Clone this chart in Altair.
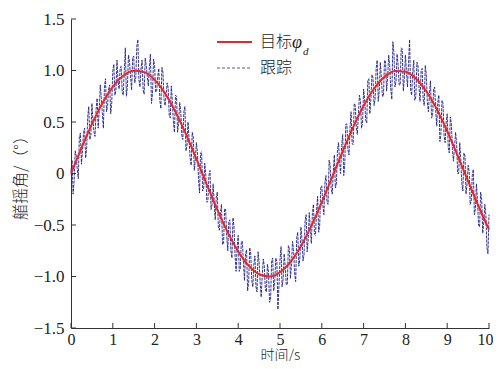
import altair as alt
import pandas as pd

# target (step 0.25 s)
target_t = [i * 0.25 for i in range(41)]
target_v = [0.00, 0.247, 0.479, 0.682, 0.841, 0.949, 0.997, 0.984, 0.909, 0.778,
            0.598, 0.382, 0.141, -0.108, -0.351, -0.572, -0.757, -0.895, -0.978, -0.999,
            -0.959, -0.859, -0.706, -0.509, -0.279, -0.033, 0.215, 0.450, 0.657, 0.823,
            0.938, 0.995, 0.989, 0.923, 0.798, 0.625, 0.412, 0.174, -0.075, -0.318, -0.544]

# tracking samples on the 0.05 s grid
track_a = [0.02, -0.20, 0.22, 0.04, 0.36, 0.09, 0.40, 0.15, 0.55, 0.33,
           0.68, 0.40, 0.62, 0.44, 0.86, 0.58, 0.84, 0.60, 0.82, 0.58,
           1.00, 0.76, 1.10, 0.82, 1.04, 0.76, 1.22, 0.85, 1.08, 0.81,
           1.14, 0.93, 1.30, 0.84, 1.10, 0.77, 1.05, 0.85, 1.16, 0.78,
           1.05, 0.80, 1.02, 0.63, 0.98, 0.66, 0.88, 0.56, 0.85, 0.50,
           0.76, 0.40, 0.69, 0.37, 0.60, 0.22, 0.50, 0.15, 0.40, 0.03,
           0.30, -0.05, 0.20, -0.17, 0.10, -0.28, -0.02, -0.35, -0.10, -0.45,
           -0.18, -0.55, -0.30, -0.68, -0.35, -0.75, -0.45, -0.82, -0.52, -0.95,
           -0.60, -0.92, -0.66, -1.04, -0.74, -1.06, -0.78, -1.10, -0.80, -1.15,
           -0.86, -1.20, -0.83, -1.13, -0.88, -1.25, -0.85, -1.14, -0.82, -1.32,
           -0.84, -1.10, -0.78, -1.08, -0.70, -1.02, -0.66, -0.98, -0.62, -0.90,
           -0.52, -0.85, -0.46, -0.76, -0.38, -0.68, -0.30, -0.60, -0.22, -0.50,
           -0.12, -0.40, -0.02, -0.30, 0.08, -0.20, 0.18, -0.10, 0.30, 0.00,
           0.38, 0.10, 0.48, 0.18, 0.60, 0.28, 0.66, 0.38, 0.76, 0.44,
           0.82, 0.52, 0.90, 0.58, 0.96, 0.66, 1.02, 0.70, 1.08, 0.75,
           1.10, 0.80, 1.15, 0.82, 1.28, 0.84, 1.16, 0.86, 1.22, 0.80,
           1.15, 0.84, 1.30, 0.76, 1.10, 0.75, 1.05, 0.70, 1.02, 0.66,
           0.96, 0.60, 0.90, 0.55, 0.84, 0.46, 0.76, 0.38, 0.68, 0.30,
           0.58, 0.20, 0.48, 0.12, 0.40, 0.00, 0.30, -0.10, 0.20, -0.20,
           0.08, -0.30, -0.02, -0.40, -0.10, -0.50, -0.18, -0.58, -0.30, -0.72,
           -0.40]

# tracking samples half-way between (t = 0.025, 0.075, ...)
track_b = [0.13, -0.08, 0.17, -0.05, 0.39, 0.22, 0.44, 0.25, 0.65, 0.37,
           0.52, 0.36, 0.73, 0.60, 0.74, 0.44, 0.92, 0.66, 0.86, 0.69,
           1.06, 0.81, 0.90, 1.02, 0.79, 1.00, 0.75, 1.15, 0.94, 1.12,
           0.88, 1.24, 0.91, 1.02, 0.81, 1.12, 0.94, 1.03, 0.68, 1.11,
           0.79, 0.94, 0.71, 1.03, 0.72, 0.76, 0.83, 0.54, 0.70, 0.40,
           0.75, 0.49, 0.61, 0.33, 0.65, 0.27, 0.33, 0.08, 0.36, 0.14,
           0.20, -0.19, 0.21, -0.14, -0.02, -0.27, 0.03, -0.30, -0.28, -0.23,
           -0.52, -0.38, -0.69, -0.34, -0.60, -0.47, -0.75, -0.43, -0.80, -0.72,
           -0.95, -0.66, -0.86, -0.78, -1.14, -0.72, -1.04, -0.88, -1.10, -0.76,
           -1.05, -0.99, -0.90, -1.15, -0.96, -1.22, -0.82, -1.04, -0.86, -1.09,
           -0.71, -1.03, -0.90, -1.08, -0.73, -0.88, -0.74, -1.05, -0.57, -0.83,
           -0.63, -0.79, -0.40, -0.64, -0.53, -0.39, -0.59, -0.36, -0.57, -0.13,
           -0.31, -0.09, -0.28, 0.13, -0.15, 0.01, -0.14, 0.23, 0.11, 0.27,
           -0.02, 0.48, 0.23, 0.44, 0.29, 0.68, 0.45, 0.56, 0.70, 0.49,
           0.72, 0.49, 0.92, 0.73, 0.93, 0.72, 1.10, 0.80, 0.93, 0.75,
           1.09, 0.93, 1.05, 0.72, 1.18, 0.89, 1.06, 0.86, 1.21, 0.92,
           0.99, 1.08, 0.81, 0.99, 0.71, 1.08, 0.84, 0.99, 0.72, 1.05,
           0.69, 0.77, 0.54, 0.82, 0.61, 0.69, 0.31, 0.71, 0.37, 0.50,
           0.25, 0.55, 0.23, 0.25, 0.30, 0.00, 0.14, -0.17, 0.17, -0.10,
           0.02, -0.27, 0.04, -0.34, -0.27, -0.52, -0.25, -0.47, -0.40, -0.78]

x_ticks = [0, 1, 2, 3, 4, 5, 6, 7, 8, 9, 10]
y_ticks = [-1.5, -1.0, -0.5, 0.0, 0.5, 1.0, 1.5]
legend_names = ["目标", "跟踪"]

track_t, track_v = [], []
for i, v in enumerate(track_a):
    track_t.append(round(i * 0.05, 3))
    track_v.append(v)
    if i < len(track_b):
        track_t.append(round(i * 0.05 + 0.025, 3))
        track_v.append(track_b[i])

df_target = pd.DataFrame({"t": target_t, "y": target_v})
df_track = pd.DataFrame({"t": track_t, "y": track_v})
df_xt = pd.DataFrame({"t": x_ticks})
df_yt = pd.DataFrame({"y": y_ticks})
df_one = pd.DataFrame({"k": [0]})

SERIF = "Liberation Serif, Times New Roman, DejaVu Serif, serif"
CJK = "Noto Sans CJK SC"

xscale = alt.Scale(domain=[0, 10], nice=False)
yscale = alt.Scale(domain=[-1.5, 1.5], nice=False)

xax = alt.Axis(values=x_ticks, title="时间/s", ticks=False, grid=False,
               labelFont=SERIF, labelFontSize=16, labelColor="#222",
               labelPadding=3, labelFlush=True, labelFlushOffset=4,
               labelOverlap=False,
               domainColor="#333", domainWidth=1,
               titleFont=CJK, titleFontSize=14, titleFontWeight=300,
               titleColor="#222", titleBaseline="alphabetic", titleY=31)
yax = alt.Axis(values=y_ticks, title="艏摇角/（°）", ticks=False, grid=False,
               labelFont=SERIF, labelFontSize=17, labelColor="#222",
               labelPadding=7, labelOverlap=False,
               labelExpr="datum.value == 0 ? '0' : format(datum.value, '.1f')",
               domainColor="#333", domainWidth=1,
               titleFont=CJK, titleFontSize=16, titleFontWeight=300,
               titleColor="#222", titlePadding=5)

X = alt.X("t:Q", scale=xscale, axis=xax)
Y = alt.Y("y:Q", scale=yscale, axis=yax)

track = alt.Chart(df_track).mark_line(
    color="#1c1c86", strokeWidth=0.9, strokeDash=[3, 1]
).encode(x=X, y=Y)

target = alt.Chart(df_target).mark_line(
    color="#e8262a", strokeWidth=2, interpolate="monotone"
).encode(x=X, y=Y)

xt = alt.Chart(df_xt).mark_rule(color="#333", strokeWidth=1).encode(
    x=X, y=alt.value(309), y2=alt.value(304))
yt = alt.Chart(df_yt).mark_rule(color="#333", strokeWidth=1).encode(
    y=Y, x=alt.value(0), x2=alt.value(5))

leg_red = alt.Chart(df_one).mark_rule(color="#e8262a", strokeWidth=2).encode(
    x=alt.value(146), x2=alt.value(181), y=alt.value(23))
leg_blue = alt.Chart(df_one).mark_rule(color="#5555aa", strokeWidth=1, strokeDash=[3, 2]).encode(
    x=alt.value(146), x2=alt.value(181), y=alt.value(49))
leg_t1 = alt.Chart(df_one).mark_text(font=CJK, fontSize=16, fontWeight=300, align="left", baseline="middle", color="#222").encode(
    x=alt.value(189), y=alt.value(23), text=alt.value(legend_names[0]))
leg_phi = alt.Chart(df_one).mark_text(font=SERIF, fontSize=18, fontStyle="italic", align="left", baseline="middle", color="#222").encode(
    x=alt.value(221), y=alt.value(24), text=alt.value("φ"))
leg_d = alt.Chart(df_one).mark_text(font=SERIF, fontSize=11, fontStyle="italic", align="left", baseline="middle", color="#222").encode(
    x=alt.value(232), y=alt.value(33), text=alt.value("d"))
leg_t2 = alt.Chart(df_one).mark_text(font=CJK, fontSize=16, fontWeight=300, align="left", baseline="middle", color="#222").encode(
    x=alt.value(189), y=alt.value(49), text=alt.value(legend_names[1]))

chart = alt.layer(track, target, xt, yt, leg_red, leg_blue, leg_t1, leg_phi, leg_d, leg_t2).properties(
    width=418, height=309,
    autosize=alt.AutoSizeParams(type="none"),
    padding={"left": 63, "top": 11, "right": 4, "bottom": 33},
    background="white",
).configure_view(stroke=None).configure_axis(labelFont=SERIF)

chart.save("out.html", embed_options={"renderer": "svg", "actions": False})
